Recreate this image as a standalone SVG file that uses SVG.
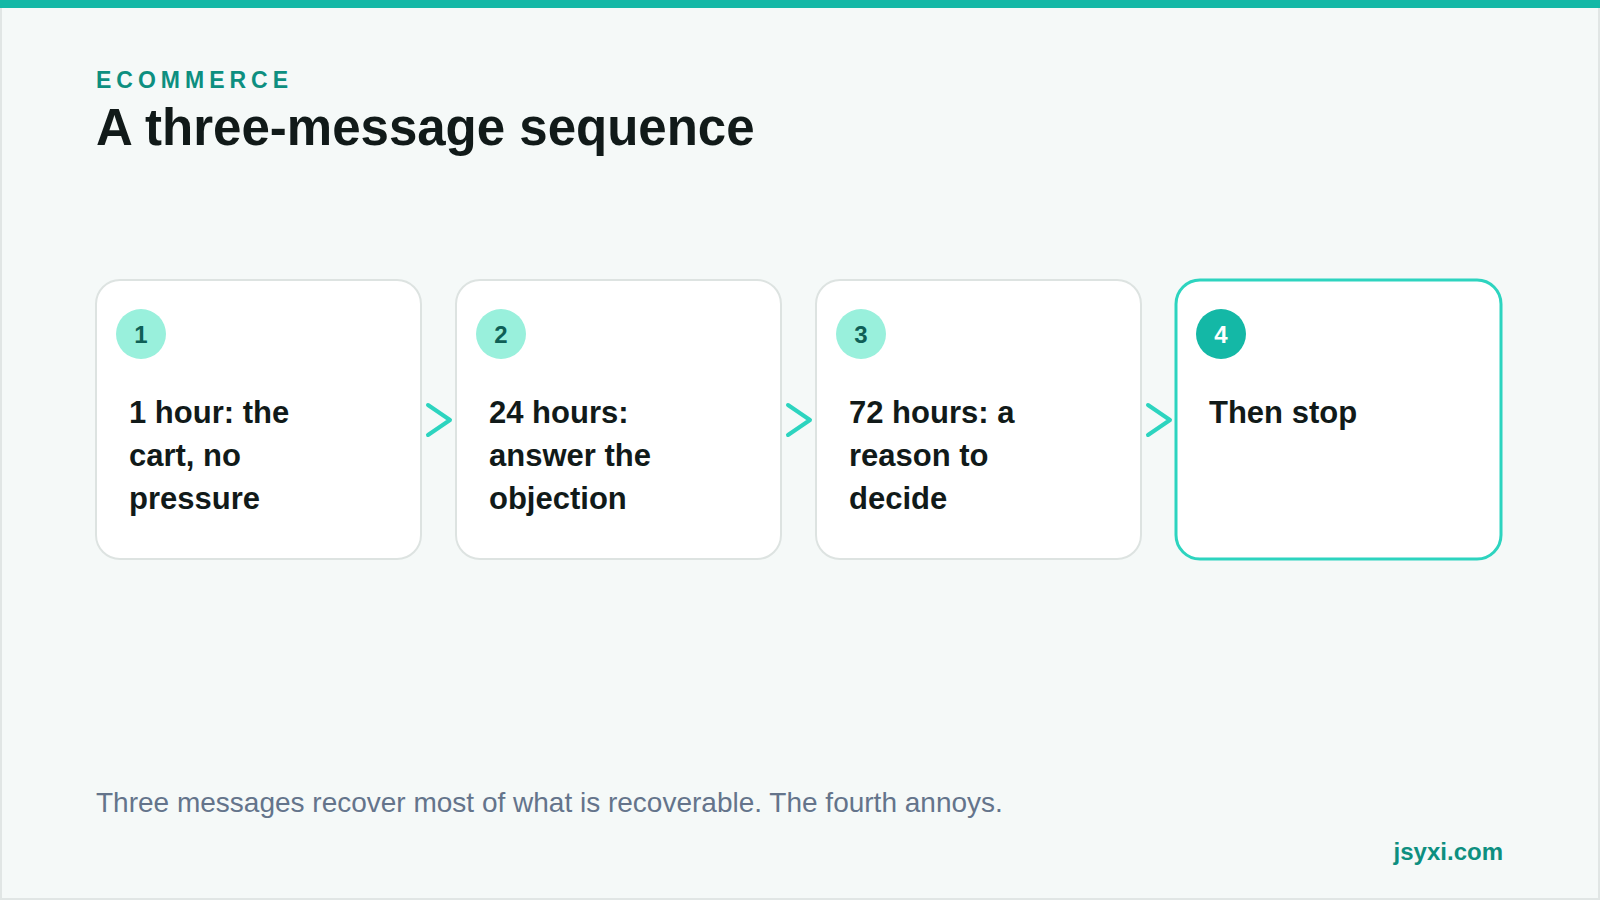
<svg xmlns="http://www.w3.org/2000/svg" width="1600" height="900" viewBox="0 0 1600 900">
<style>
text{font-family:"Liberation Sans",Arial,sans-serif}
.card{fill:#fff;stroke:#dde3e1;stroke-width:2}
.num{fill:#99f0dc}
.nt{font-size:24px;font-weight:bold;fill:#0f5f56;text-anchor:middle}
.lbl{font-size:31px;font-weight:bold;fill:#111a19}
.arr{fill:none;stroke:#2dd4bf;stroke-width:4;stroke-linecap:round;stroke-linejoin:round}
</style>
<rect width="1600" height="900" fill="#f5f9f8"/>
<rect x="1" y="1" width="1598" height="898" fill="none" stroke="#e1e6e5" stroke-width="2"/>
<rect width="1600" height="8" fill="#14b8a6"/>
<text x="96" y="88" font-size="23" font-weight="bold" fill="#0d8f80" letter-spacing="5">ECOMMERCE</text>
<text x="96" y="145" font-size="51" font-weight="bold" fill="#111a19">A three-message sequence</text>
<g id="node1"><rect class="card" x="96" y="280" width="325" height="279" rx="24"/><circle class="num" cx="141" cy="334" r="25"/><text class="nt" x="141" y="343">1</text><text class="lbl" x="129" y="423">1 hour: the</text><text class="lbl" x="129" y="466">cart, no</text><text class="lbl" x="129" y="509">pressure</text></g>
<g id="node2"><rect class="card" x="456" y="280" width="325" height="279" rx="24"/><circle class="num" cx="501" cy="334" r="25"/><text class="nt" x="501" y="343">2</text><text class="lbl" x="489" y="423">24 hours:</text><text class="lbl" x="489" y="466">answer the</text><text class="lbl" x="489" y="509">objection</text></g>
<g id="node3"><rect class="card" x="816" y="280" width="325" height="279" rx="24"/><circle class="num" cx="861" cy="334" r="25"/><text class="nt" x="861" y="343">3</text><text class="lbl" x="849" y="423">72 hours: a</text><text class="lbl" x="849" y="466">reason to</text><text class="lbl" x="849" y="509">decide</text></g>
<g id="node4"><rect x="1176" y="280" width="325" height="279" rx="24" fill="#fff" stroke="#2dd4bf" stroke-width="3"/><circle cx="1221" cy="334" r="25" fill="#14b8a6"/><text class="nt" x="1221" y="343" fill="#fff" style="fill:#fff">4</text><text class="lbl" x="1209" y="423">Then stop</text></g>
<g id="connectors">
<path class="arr" d="M428 405 L450 420 L428 435"/>
<path class="arr" d="M788 405 L810 420 L788 435"/>
<path class="arr" d="M1148 405 L1170 420 L1148 435"/>
</g>
<text x="96" y="812" font-size="28" fill="#64748b">Three messages recover most of what is recoverable. The fourth annoys.</text>
<text x="1503" y="860" font-size="24" font-weight="bold" fill="#0d8f80" text-anchor="end">jsyxi.com</text>
</svg>
